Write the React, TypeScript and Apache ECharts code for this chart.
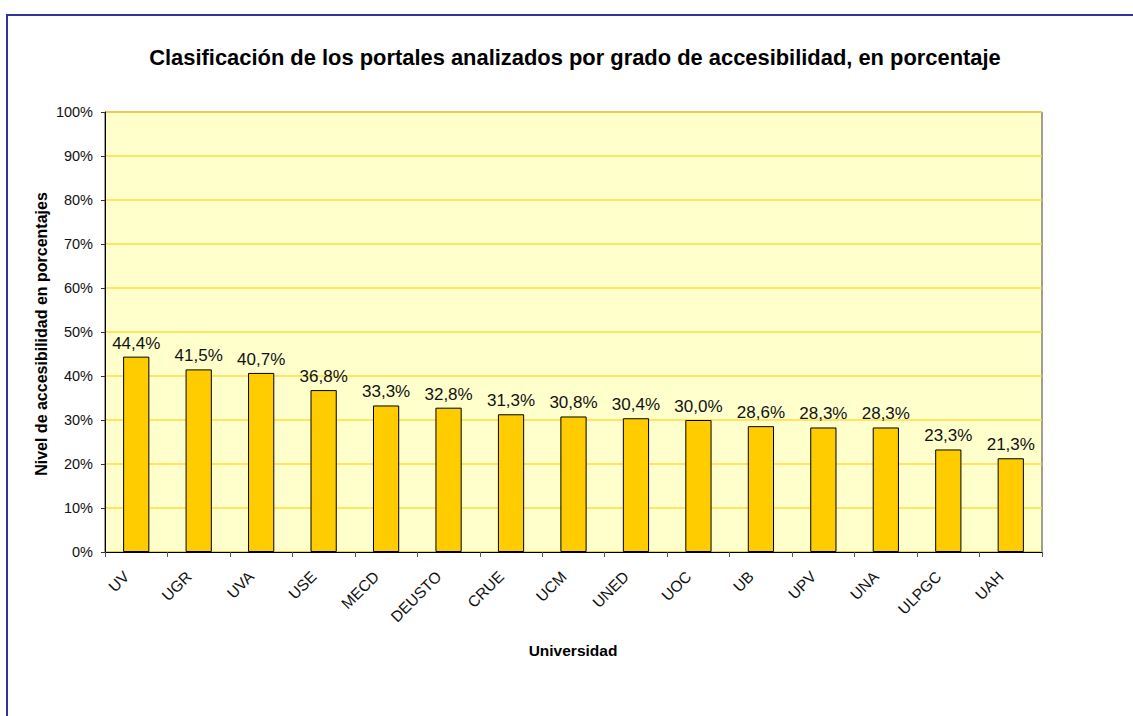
import React, { useEffect, useRef } from "react";
import * as echarts from "echarts";

const categories = ["UV", "UGR", "UVA", "USE", "MECD", "DEUSTO", "CRUE", "UCM", "UNED", "UOC", "UB", "UPV", "UNA", "ULPGC", "UAH"];
const values = [44.4, 41.5, 40.7, 36.8, 33.3, 32.8, 31.3, 30.8, 30.4, 30.0, 28.6, 28.3, 28.3, 23.3, 21.3];
const yTicks = [0, 10, 20, 30, 40, 50, 60, 70, 80, 90, 100];

const titleText = "Clasificación de los portales analizados por grado de accesibilidad, en porcentaje";
const yName = "Nivel de accesibilidad en porcentajes";
const xName = "Universidad";

const FONT = "'Liberation Sans', Arial, sans-serif";

export default function App() {
  const ref = useRef<HTMLDivElement>(null);
  useEffect(() => {
    if (!ref.current) return;
    const chart = echarts.init(ref.current, undefined, { renderer: "svg" });
    chart.setOption({
      animation: false,
      backgroundColor: "#ffffff",
      textStyle: { fontFamily: FONT },
      title: {
        text: titleText,
        left: 570,
        top: 41,
        textAlign: "center",
        textStyle: { fontFamily: FONT, fontSize: 21.9, fontWeight: "bold", color: "#000" },
      },
      graphic: [
        {
          type: "rect",
          shape: { x: 7, y: 15, width: 1140, height: 720 },
          style: { fill: "none", stroke: "#333399", lineWidth: 2 },
          silent: true,
          z: 100,
        },
        {
          type: "text",
          x: 41,
          y: 334,
          rotation: Math.PI / 2,
          style: {
            text: yName,
            fontFamily: FONT,
            fontSize: 16,
            fontWeight: "bold",
            fill: "#000",
            align: "center",
            verticalAlign: "middle",
          },
        },
        {
          type: "text",
          x: 573,
          y: 650,
          style: {
            text: xName,
            fontFamily: FONT,
            fontSize: 15.5,
            fontWeight: "bold",
            fill: "#000",
            align: "center",
            verticalAlign: "middle",
          },
        },
      ],
      grid: {
        left: 105,
        top: 112,
        right: 91,
        bottom: 164,
        show: true,
        backgroundColor: "#FFFFCC",
        borderColor: "#404040",
        borderWidth: 1,
      },
      xAxis: {
        type: "category",
        data: categories,
        axisLine: { lineStyle: { color: "#000", width: 1 } },
        axisTick: { show: true, alignWithLabel: false, length: 5, lineStyle: { color: "#555" } },
        axisLabel: {
          rotate: 45,
          interval: 0,
          margin: 12,
          padding: [0, 14, 0, 0],
          fontSize: 15.5,
          color: "#111",
          fontFamily: FONT,
        },
      },
      yAxis: {
        type: "value",
        min: 0,
        max: 100,
        interval: 10,
        axisLine: { show: true, lineStyle: { color: "#000", width: 1 } },
        axisTick: { show: true, length: 4, lineStyle: { color: "#333" } },
        axisLabel: {
          formatter: (v: number) => (yTicks.includes(v) ? v + "%" : ""),
          fontSize: 14.5,
          color: "#111",
          margin: 12,
          fontFamily: FONT,
        },
        splitLine: { show: true, lineStyle: { color: "#FFDC40", width: 1.5 } },
      },
      series: [
        {
          type: "bar",
          data: values,
          barWidth: "42%",
          itemStyle: { color: "#FFCC00", borderColor: "#000", borderWidth: 1 },
          label: {
            show: true,
            position: "top",
            distance: 5,
            fontSize: 17,
            color: "#111",
            fontFamily: FONT,
            formatter: (p: any) => p.value.toFixed(1).replace(".", ",") + "%",
          },
        },
      ],
    });
    return () => chart.dispose();
  }, []);
  return (
    <div
      ref={ref}
      style={{ position: "absolute", left: 0, top: 0, width: 1133, height: 716 }}
    />
  );
}
